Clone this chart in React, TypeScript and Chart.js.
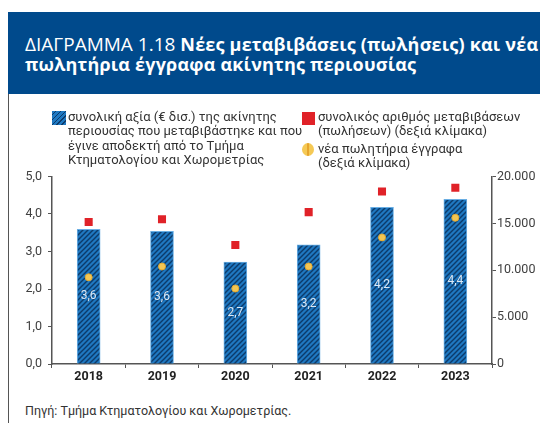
import React, { useEffect, useRef } from "react";
import { Chart, registerables } from "chart.js";

Chart.register(...registerables);

const years = ["2018", "2019", "2020", "2021", "2022", "2023"];
const totalValue = [3.59, 3.54, 2.72, 3.18, 4.18, 4.39];
const valueLabels = ["3,6", "3,6", "2,7", "3,2", "4,2", "4,4"];
const transfers = [15150, 15450, 12700, 16200, 18400, 18800];
const newSaleDocs = [9250, 10400, 8050, 10400, 13500, 15600];
const leftTicks = [0, 1, 2, 3, 4, 5];
const rightTicks = [0, 5000, 10000, 15000, 20000];

const FONT = "Roboto, 'Open Sans', sans-serif";
const TITLE_FONT = "'Open Sans', Roboto, sans-serif";

function makeHatch(ctx: CanvasRenderingContext2D) {
  const size = 5;
  const c = document.createElement("canvas");
  c.width = size;
  c.height = size;
  const g = c.getContext("2d")!;
  g.fillStyle = "#1f78c1";
  g.fillRect(0, 0, size, size);
  g.strokeStyle = "#0c3a6a";
  g.lineWidth = 1.4;
  g.beginPath();
  g.moveTo(-1, size + 1);
  g.lineTo(size + 1, -1);
  g.moveTo(-1, 1);
  g.lineTo(1, -1);
  g.moveTo(size - 1, size + 1);
  g.lineTo(size + 1, size - 1);
  g.stroke();
  return ctx.createPattern(c, "repeat")!;
}

function fmtThousands(v: number) {
  return String(v).replace(/\B(?=(\d{3})+(?!\d))/g, ".");
}

const barLabelPlugin = {
  id: "barLabels",
  afterDatasetsDraw(chart: any) {
    const meta = chart.getDatasetMeta(2);
    const ctx = chart.ctx;
    ctx.save();
    ctx.font = `12px ${FONT}`;
    ctx.fillStyle = "#dce9f6";
    ctx.textAlign = "center";
    ctx.textBaseline = "middle";
    meta.data.forEach((el: any, i: number) => {
      const y = (el.y + el.base) / 2;
      ctx.fillText(valueLabels[i], el.x, y);
    });
    ctx.restore();
  },
};

function ChartCanvas() {
  const ref = useRef<HTMLCanvasElement>(null);
  useEffect(() => {
    const canvas = ref.current!;
    const ctx = canvas.getContext("2d")!;
    const hatch = makeHatch(ctx);
    const chart = new Chart(canvas, {
      type: "bar",
      data: {
        labels: years,
        datasets: [
          {
            type: "line",
            data: transfers,
            yAxisID: "y2",
            showLine: false,
            pointStyle: "rect",
            pointRadius: 5.7,
            pointBackgroundColor: "#e02228",
            pointBorderWidth: 0,
            borderColor: "#e02228",
            order: 1,
          },
          {
            type: "line",
            data: newSaleDocs,
            yAxisID: "y2",
            showLine: false,
            pointStyle: "circle",
            pointRadius: 3.5,
            pointBackgroundColor: "#f3c654",
            pointBorderColor: "#e2a932",
            pointBorderWidth: 1,
            borderColor: "#f3c654",
            order: 2,
          },
          {
            type: "bar",
            data: totalValue,
            yAxisID: "y",
            backgroundColor: hatch,
            borderColor: "#6aaee3",
            borderWidth: 1,
            barThickness: 23,
            order: 3,
          },
        ],
      },
      options: {
        responsive: false,
        animation: false,
        events: [],
        layout: { padding: { top: 10, bottom: 0, left: 0, right: 0 } },
        plugins: { legend: { display: false }, tooltip: { enabled: false } },
        scales: {
          x: {
            offset: true,
            grid: {
              display: true,
              offset: true,
              drawOnChartArea: false,
              drawTicks: true,
              tickLength: 4,
              color: "#555",
            },
            border: { color: "#555", width: 1.5 },
            ticks: {
              color: "#222",
              padding: 1,
              font: { family: FONT, size: 12.5, weight: "bold" },
            },
            afterFit: (s: any) => {
              s.height = 26;
            },
          },
          y: {
            position: "left",
            min: 0,
            max: 5,
            afterBuildTicks: (s: any) => {
              s.ticks = leftTicks.map((v) => ({ value: v }));
            },
            grid: {
              drawOnChartArea: false,
              drawTicks: true,
              tickLength: 4,
              color: "#555",
            },
            border: { color: "#555", width: 1.5 },
            ticks: {
              color: "#404040",
              padding: 6,
              font: { family: FONT, size: 12.5 },
              callback: (v: any) => Number(v).toFixed(1).replace(".", ","),
            },
            afterFit: (s: any) => {
              s.width = 52;
            },
          },
          y2: {
            position: "right",
            min: 0,
            max: 20000,
            afterBuildTicks: (s: any) => {
              s.ticks = rightTicks.map((v) => ({ value: v }));
            },
            grid: {
              drawOnChartArea: false,
              drawTicks: true,
              tickLength: 4,
              color: "#555",
            },
            border: { color: "#555", width: 1.5 },
            ticks: {
              color: "#404040",
              padding: 1,
              font: { family: FONT, size: 12.5 },
              callback: (v: any) => fmtThousands(Number(v)),
            },
            afterFit: (s: any) => {
              s.width = 48;
            },
          },
        },
      },
      plugins: [barLabelPlugin],
    } as any);
    return () => chart.destroy();
  }, []);
  return (
    <canvas
      ref={ref}
      width={540}
      height={227}
      style={{ position: "absolute", left: 0, top: 163, width: 540, height: 227 }}
    />
  );
}

export default function App() {
  useEffect(() => {
    document.body.style.margin = "0";
  }, []);
  const legendText: React.CSSProperties = {
    position: "absolute",
    fontFamily: FONT,
    fontSize: 13,
    lineHeight: "14.3px",
    color: "#333",
    whiteSpace: "nowrap",
  };
  return (
    <div
      style={{
        position: "relative",
        width: 540,
        height: 423,
        overflow: "hidden",
        background: "#fff",
        margin: 0,
      }}
    >
      <div
        style={{
          position: "absolute",
          left: 8,
          top: 12,
          width: 532,
          height: 82,
          background: "#004a8c",
        }}
      />
      <div
        style={{
          position: "absolute",
          left: 25,
          top: 34,
          color: "#fff",
          fontFamily: TITLE_FONT,
          fontSize: 18,
          lineHeight: "20px",
          whiteSpace: "nowrap",
        }}
      >
        <span style={{ fontSize: 19 }}>ΔΙΑΓΡΑΜΜΑ 1.18 </span>
        <b style={{ letterSpacing: 0.2 }}>Νέες μεταβιβάσεις (πωλήσεις) και νέα</b>
        <br />
        <b style={{ letterSpacing: 0.2 }}>πωλητήρια έγγραφα ακίνητης περιουσίας</b>
      </div>
      <div
        style={{
          position: "absolute",
          left: 8,
          top: 94,
          width: 1,
          height: 329,
          background: "#555",
        }}
      />
      <ChartCanvas />
      <div
        style={{
          position: "absolute",
          left: 52,
          top: 111,
          width: 14,
          height: 14,
          background:
            "repeating-linear-gradient(135deg, #1f78c1 0px, #1f78c1 2.2px, #0c3a6a 2.2px, #0c3a6a 3.5px)",
        }}
      />
      <div style={{ ...legendText, left: 68, top: 110 }}>
        συνολική αξία (€ δισ.) της ακίνητης
        <br />
        περιουσίας που μεταβιβάστηκε και που
        <br />
        έγινε αποδεκτή από το Τμήμα
        <br />
        Κτηματολογίου και Χωρομετρίας
      </div>
      <div
        style={{
          position: "absolute",
          left: 302,
          top: 112,
          width: 13,
          height: 13,
          background: "#e02228",
        }}
      />
      <div style={{ ...legendText, left: 318, top: 110 }}>
        συνολικός αριθμός μεταβιβάσεων
        <br />
        (πωλήσεων) (δεξιά κλίμακα)
      </div>
      <div
        style={{
          position: "absolute",
          left: 302,
          top: 143,
          width: 12,
          height: 13,
          borderRadius: "50%",
          background:
            "linear-gradient(90deg, #f5c955 0%, #f5c955 40%, #e6a52c 40%, #e6a52c 60%, #f5c955 60%)",
        }}
      />
      <div style={{ ...legendText, left: 318, top: 142 }}>
        νέα πωλητήρια έγγραφα
        <br />
        (δεξιά κλίμακα)
      </div>
      <div
        style={{
          ...legendText,
          left: 25,
          top: 404,
          fontSize: 12.5,
        }}
      >
        Πηγή: Τμήμα Κτηματολογίου και Χωρομετρίας.
      </div>
    </div>
  );
}
